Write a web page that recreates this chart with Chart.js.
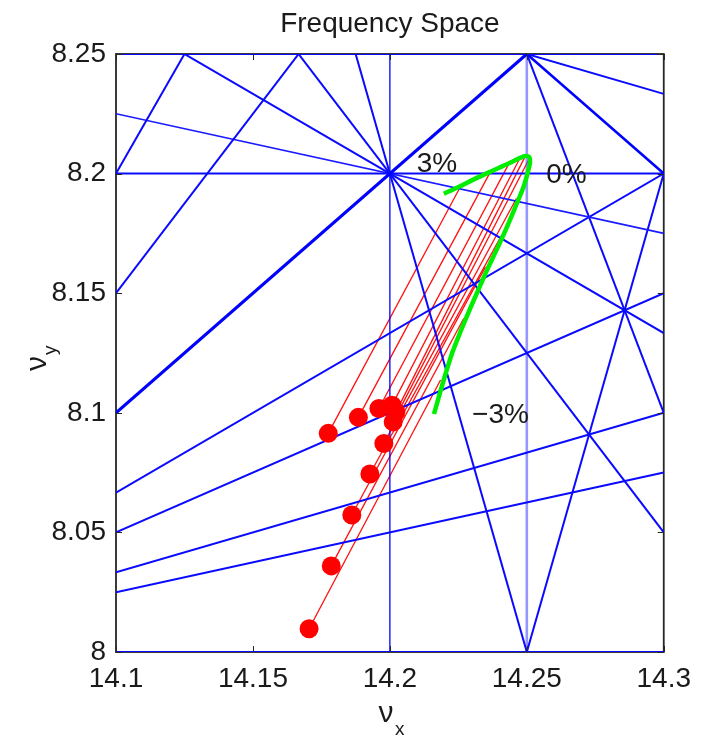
<!DOCTYPE html>
<html><head><meta charset="utf-8">
<script src="https://cdn.jsdelivr.net/npm/chart.js@4.4.1/dist/chart.umd.min.js"></script>
<style>html,body{margin:0;padding:0;background:#fff}#wrap{width:701px;height:736px;position:relative}</style>
</head><body><div id="wrap"><canvas id="c"></canvas></div>
<script>
// ---- axis ticks ----
const xTickValues = [14.1, 14.15, 14.2, 14.25, 14.3];
const xTickLabels = ['14.1', '14.15', '14.2', '14.25', '14.3'];
const yTickValues = [8, 8.05, 8.1, 8.15, 8.2, 8.25];
const yTickLabels = ['8', '8.05', '8.1', '8.15', '8.2', '8.25'];
const xRange = [14.1, 14.3];
const yRange = [8.0, 8.25];

// ---- resonance lines m*nux + n*nuy = p ----
const resonanceM = [1, 2, 2, 3, 2, 3, 4, 1, 1, 3, 4, 2, 1, 1, 1, 5, 4, 0, 0, 0];
const resonanceN = [-1, 2, -1, -2, 3, 2, 1, 4, 3, 1, -1, -3, -2, -3, -4, 0, 0, 5, 4, 1];
const resonanceP = [6, 45, 20, 26, 53, 59, 65, 47, 39, 51, 49, 4, -2, -10, -18, 71, 57, 41, 33, 8];

// ---- tracked tunes (red dots) ----
const tuneX = [14.1775, 14.1885, 14.1960, 14.2008, 14.2022, 14.2012, 14.1978, 14.1927, 14.1861, 14.1786, 14.1705];
const tuneY = [8.0914, 8.0981, 8.1018, 8.1032, 8.1003, 8.0962, 8.0872, 8.0744, 8.0573, 8.0360, 8.0097];
// ---- matching points on chromatic curve (red line ends) ----
const linkX = [14.2257, 14.2367, 14.2440, 14.2476, 14.2494, 14.2506, 14.2462, 14.2408, 14.2349, 14.2270, 14.2185];
const linkY = [8.1944, 8.2007, 8.2053, 8.2067, 8.2072, 8.2056, 8.1896, 8.1742, 8.1610, 8.1395, 8.1137];

// ---- chromatic tune curve (green) from +3% to -3% ----
const chromX = [14.2197, 14.2251, 14.2312, 14.2373, 14.2433, 14.2470, 14.2494, 14.2509, 14.2512, 14.2504, 14.2488, 14.2458, 14.2423, 14.2387, 14.2354, 14.2322, 14.2289, 14.2258, 14.2229, 14.2196, 14.2161];
const chromY = [8.1916, 8.1944, 8.1979, 8.2011, 8.2042, 8.2063, 8.2074, 8.2069, 8.2048, 8.2007, 8.1944, 8.1860, 8.1765, 8.1675, 8.1595, 8.1512, 8.1425, 8.1340, 8.1255, 8.1135, 8.0995];

// ---- momentum labels ----
const labelTexts = ['3%', '0%', '\u22123%'];
const labelX = [14.2098, 14.2571, 14.2300];
const labelY = [8.2005, 8.1959, 8.0957];

const FONT = '"Liberation Sans", Arial, Helvetica, sans-serif';
const TXT = '#1a1a1a';

function resonanceStyle(i) {
  const m = resonanceM[i], n = resonanceN[i];
  if (m === 1 && n === -1) return { w: 3.2, c: '#0000ff' };
  if (m === 2 && n === 2) return { w: 2.6, c: '#0000ff' };
  if (m === 4 && n === 0) return { w: 2.6, c: 'rgba(80,80,255,0.6)' };
  if (m === 5 && n === 0) return { w: 1.3, c: '#0000ff' };
  if (m === 1 && n === 4) return { w: 1.6, c: '#1a1aff' };
  return { w: 2, c: '#0a0aff' };
}

const datasets = [];
// red dots (top)
datasets.push({
  type: 'scatter', data: tuneX.map((x, i) => ({ x, y: tuneY[i] })),
  pointRadius: 9.5, pointBackgroundColor: '#ff0000', pointBorderColor: '#ff0000', pointBorderWidth: 0,
  showLine: false, order: 0
});
// green curve
datasets.push({
  type: 'line', data: chromX.map((x, i) => ({ x, y: chromY[i] })),
  borderColor: '#00ee00', borderWidth: 4.5, pointRadius: 0, tension: 0.25, fill: false,
  borderCapStyle: 'butt', order: 1
});
// resonance lines
for (let i = 0; i < resonanceM.length; i++) {
  const m = resonanceM[i], n = resonanceN[i], p = resonanceP[i];
  let pts;
  if (n === 0) {
    const x = p / m;
    pts = [{ x, y: yRange[0] }, { x, y: yRange[1] }];
  } else {
    pts = xRange.map(x => ({ x, y: (p - m * x) / n }));
  }
  const st = resonanceStyle(i);
  datasets.push({
    type: 'line', data: pts, borderColor: st.c, borderWidth: st.w, pointRadius: 0,
    tension: 0, fill: false, order: 2
  });
}
// red links
for (let i = 0; i < tuneX.length; i++) {
  datasets.push({
    type: 'line', data: [{ x: tuneX[i], y: tuneY[i] }, { x: linkX[i], y: linkY[i] }],
    borderColor: '#ff1010', borderWidth: 1.3, pointRadius: 0, tension: 0, fill: false, order: 3
  });
}

const framePlugin = {
  id: 'frame',
  beforeDatasetsDraw(chart) {
    const { ctx, chartArea: a } = chart;
    ctx.save();
    ctx.strokeStyle = '#262626';
    ctx.lineWidth = 1.8;
    ctx.strokeRect(a.left, a.top, a.right - a.left, a.bottom - a.top);
    ctx.restore();
  },
  afterDatasetsDraw(chart) {
    const { ctx, chartArea: a, scales } = chart;
    ctx.save();
    ctx.strokeStyle = '#262626';
    ctx.lineWidth = 1;
    const L = 6;
    scales.x.ticks.forEach(t => {
      const px = Math.round(scales.x.getPixelForValue(t.value)) + 0.5;
      ctx.beginPath();
      ctx.moveTo(px, a.bottom); ctx.lineTo(px, a.bottom - L);
      ctx.moveTo(px, a.top); ctx.lineTo(px, a.top + L);
      ctx.stroke();
    });
    scales.y.ticks.forEach(t => {
      const py = Math.round(scales.y.getPixelForValue(t.value)) + 0.5;
      ctx.beginPath();
      ctx.moveTo(a.left, py); ctx.lineTo(a.left + L, py);
      ctx.moveTo(a.right, py); ctx.lineTo(a.right - L, py);
      ctx.stroke();
    });
    ctx.restore();
  },
  afterDraw(chart) {
    const { ctx, chartArea: a, scales } = chart;
    ctx.save();
    ctx.fillStyle = TXT;
    // title
    ctx.font = '28px ' + FONT;
    ctx.textAlign = 'center';
    ctx.textBaseline = 'alphabetic';
    ctx.fillText('Frequency Space', (a.left + a.right) / 2, 32);
    // annotations
    ctx.textAlign = 'left';
    ctx.font = '28px ' + FONT;
    labelTexts.forEach((t, i) => {
      ctx.fillText(t, scales.x.getPixelForValue(labelX[i]), scales.y.getPixelForValue(labelY[i]));
    });
    // x axis title
    const cx = (a.left + a.right) / 2;
    ctx.font = '30px ' + FONT;
    ctx.textAlign = 'center';
    ctx.fillText('\u03bd', cx - 4, 722);
    ctx.font = '19px ' + FONT;
    ctx.textAlign = 'left';
    ctx.fillText('x', cx + 5, 735);
    // y axis title
    ctx.translate(46, (a.top + a.bottom) / 2 + 18);
    ctx.rotate(-Math.PI / 2);
    ctx.font = '30px ' + FONT;
    ctx.textAlign = 'left';
    ctx.fillText('\u03bd', 0, 0);
    ctx.font = '19px ' + FONT;
    ctx.fillText('y', 16, 10);
    ctx.restore();
  }
};

Chart.defaults.font.family = FONT;
new Chart(document.getElementById('c'), {
  type: 'scatter',
  data: { datasets },
  options: {
    responsive: true, maintainAspectRatio: false, animation: false,
    layout: { padding: { left: 0, right: 36, top: 54, bottom: 0 } },
    plugins: { legend: { display: false }, tooltip: { enabled: false }, title: { display: false } },
    scales: {
      x: {
        type: 'linear', min: xRange[0], max: xRange[1],
        grid: { display: false, drawTicks: false }, border: { display: false },
        afterBuildTicks: s => { s.ticks = xTickValues.map(v => ({ value: v })); },
        afterFit: s => { s.height = 84; },
        ticks: { color: TXT, font: { size: 28 }, padding: 10, maxRotation: 0, autoSkip: false,
          callback: (v, i) => xTickLabels[i] }
      },
      y: {
        type: 'linear', min: yRange[0], max: yRange[1],
        grid: { display: false, drawTicks: false }, border: { display: false },
        afterBuildTicks: s => { s.ticks = yTickValues.map(v => ({ value: v })); },
        afterFit: s => { s.width = 116; },
        ticks: { color: TXT, font: { size: 28 }, padding: 10, autoSkip: false,
          callback: (v, i) => yTickLabels[i] }
      }
    }
  },
  plugins: [framePlugin]
});
</script></body></html>
